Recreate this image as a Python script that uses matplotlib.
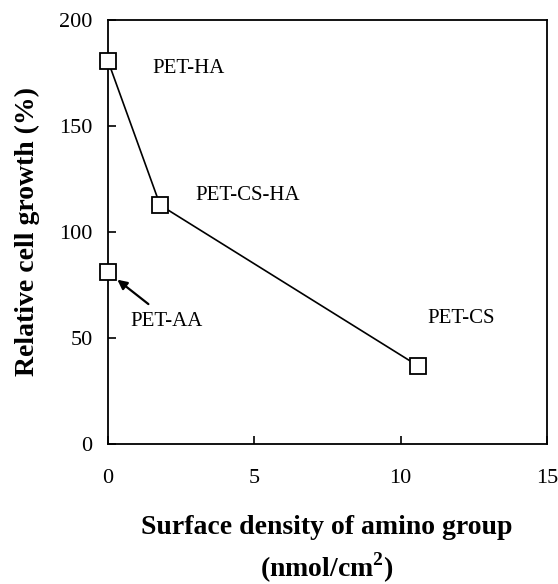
import numpy as np
import matplotlib
matplotlib.use('Agg')
import matplotlib.pyplot as plt

# data
line_x = [0.0, 1.78, 10.6]
line_y = [180.7, 112.7, 36.8]
aa_x = [0.0]
aa_y = [81.0]

labels = ['PET-HA', 'PET-CS-HA', 'PET-AA', 'PET-CS']
label_xy = [(1.5, 177), (3.0, 117), (0.75, 58), (10.9, 59)]

plt.rcParams['font.family'] = ['Liberation Serif', 'DejaVu Serif']
plt.rcParams['mathtext.fontset'] = 'custom'
plt.rcParams['mathtext.rm'] = 'Liberation Serif'
plt.rcParams['mathtext.bf'] = 'Liberation Serif:bold'

fig = plt.figure(figsize=(5.58, 5.84), dpi=100)
ax = fig.add_axes([108/558, 1-444/584, (547-108)/558, (444-20)/584])

ax.plot(line_x, line_y, '-', color='k', lw=1.2, zorder=2)
ax.plot(line_x, line_y, 's', ms=12, mfc='white', mec='k', mew=1.3, zorder=3)
ax.plot(aa_x, aa_y, 's', ms=12, mfc='white', mec='k', mew=1.3, zorder=3)
for l in ax.lines:
    l.set_clip_on(False)

for txt, (tx, ty) in zip(labels, label_xy):
    ax.text(tx, ty, txt, fontsize=15, ha='left', va='center')

ax.annotate('', xy=(0.32, 77.5), xytext=(1.38, 66),
            arrowprops=dict(arrowstyle='-|>', color='k', lw=1.6, mutation_scale=14,
                            shrinkA=0, shrinkB=0))

ax.set_xlim(0, 15)
ax.set_ylim(0, 200)
ax.set_xticks([0, 5, 10, 15])
ax.set_yticks([0, 50, 100, 150, 200])
ax.tick_params(direction='in', length=6, width=1.2, labelsize=16, pad=11,
               top=False, right=False)
ax.tick_params(axis='x', pad=18)
for s in ax.spines.values():
    s.set_linewidth(1.3)

ax.set_ylabel('Relative cell growth (%)', fontsize=20, fontweight='bold', labelpad=14)
fig.text(327/558, 1-527/584, 'Surface density of amino group', fontsize=20,
         fontweight='bold', ha='center', va='center')
fig.text(327/558, 1-568/584, '(nmol/cm$^\\mathbf{2}$)', fontsize=20,
         fontweight='bold', ha='center', va='center')

fig.savefig('out.png', dpi=100)
